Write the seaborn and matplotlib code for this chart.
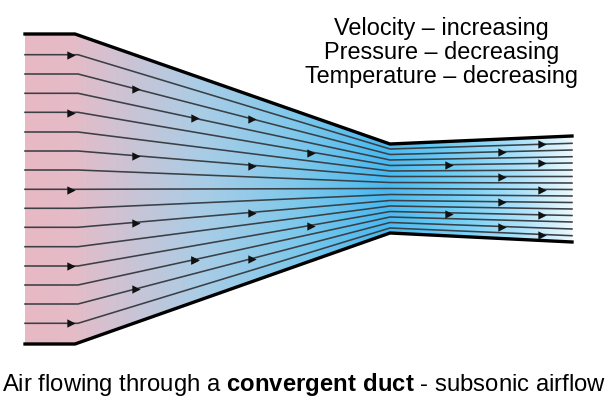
import numpy as np
import pandas as pd
import matplotlib.pyplot as plt
from matplotlib.colors import LinearSegmentedColormap
from matplotlib.patches import Polygon
import seaborn as sns

# everything in pixels, y pointing down
stations = [25, 78, 390, 572]
inlet_y = [54.7, 74, 93.3, 112.3, 132, 151, 170, 189.3, 208.3, 227.3,
           246.7, 266, 285, 304, 323.3]
throat_y = [149, 154.5, 160, 165.5, 171, 176.5, 182.5, 188.5, 194.5, 200.5,
            206, 211.5, 217, 222.5, 228]
outlet_y = [143.3, 150, 156.7, 163, 170, 176.5, 183, 189.5, 196, 202.5,
            209, 215.5, 222, 229, 235.7]

wall_x = [25, 75, 390, 572]
wall_top = [34, 34, 144, 136]
wall_bottom = [344, 344, 233, 242]

arrow_x = [71, 136, 195, 71, 136, 71, 136, 71, 195, 136, 71,
           252, 311, 252, 252, 311, 195, 252,
           542, 502, 449, 542, 502, 542, 502, 449, 542, 502, 542]
arrow_y = [55, 89, 118, 112.5, 156, 189.5, 222.5, 266, 260, 289, 323,
           119, 152.5, 166, 213, 226, 260, 259,
           143.5, 151.5, 165, 163, 176.5, 189.5, 202, 213.5, 215, 227, 235]

grad_pos = [0, 0.09, 0.32, 0.50, 0.66, 0.78, 0.905, 1]
grad_colors = ["#e8b9c4", "#e4bcc8", "#aacde6", "#7dc8eb", "#48b9f0",
               "#6ecdf5", "#aae1fa", "#ebf8fc"]

notes = ["Velocity – increasing", "Pressure – decreasing",
         "Temperature – decreasing"]
note_y = [29, 52, 76]
caption = r"Air flowing through a $\mathbf{convergent\ duct}$ - subsonic airflow"

plt.rcParams["font.family"] = "Liberation Sans"
plt.rcParams["mathtext.fontset"] = "custom"
plt.rcParams["mathtext.rm"] = "Liberation Sans"
plt.rcParams["mathtext.bf"] = "Liberation Sans:bold"

fig, ax = plt.subplots(figsize=(6.15, 4.09), dpi=100)
ax.set_position([0, 0, 1, 1])

# background gradient clipped to the duct
cmap = LinearSegmentedColormap.from_list("duct", list(zip(grad_pos, grad_colors)))
gradient = np.linspace(0, 1, 256).reshape(1, -1)
img = ax.imshow(gradient, cmap=cmap, aspect="auto",
                extent=[wall_x[0], wall_x[-1], 344, 34])
outline = list(zip(wall_x, wall_top)) + list(zip(wall_x[::-1], wall_bottom[::-1]))
clip = Polygon(outline, transform=ax.transData, fc="none", ec="none")
ax.add_patch(clip)
img.set_clip_path(clip)

# streamlines
rows = []
for i in range(len(inlet_y)):
    ys = [inlet_y[i], inlet_y[i], throat_y[i], outlet_y[i]]
    for x, y in zip(stations, ys):
        rows.append({"line": i, "x": x, "y": y})
lines = pd.DataFrame(rows)
sns.lineplot(data=lines, x="x", y="y", units="line", estimator=None, sort=False,
             color="#3a4046", lw=1.15, ax=ax, legend=False)

# duct walls
sns.lineplot(x=wall_x, y=wall_top, sort=False, estimator=None, color="black",
             lw=2.4, ax=ax, legend=False)
sns.lineplot(x=wall_x, y=wall_bottom, sort=False, estimator=None, color="black",
             lw=2.4, ax=ax, legend=False)

# flow arrows
sns.scatterplot(x=arrow_x, y=arrow_y, marker=">", color="#111111", s=36,
                linewidth=0, ax=ax, zorder=4, legend=False)

for note, y in zip(notes, note_y):
    ax.text(441.5, y, note, fontsize=16.9, ha="center", va="center", color="black")
ax.text(2, 385, caption, fontsize=17.2, ha="left", va="center", color="black")

ax.set_xlim(0, 615)
ax.set_ylim(409, 0)
ax.axis("off")

fig.savefig("out.png", dpi=100)
